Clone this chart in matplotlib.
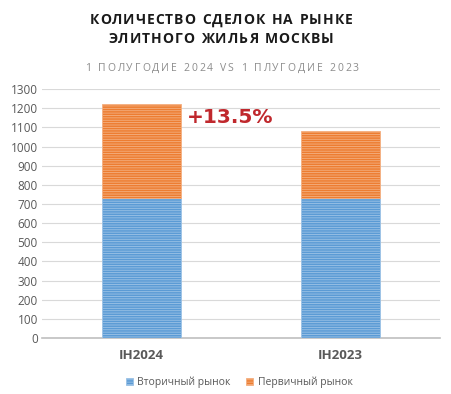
import matplotlib
matplotlib.use("Agg")
import matplotlib.pyplot as plt
import numpy as np

categories = ["IH2024", "IH2023"]
secondary = [733, 733]
primary = [490, 347]
series_names = ["Вторичный рынок", "Первичный рынок"]
growth_label = "+13.5%"
title_lines = ["КОЛИЧЕСТВО СДЕЛОК НА РЫНКЕ", "ЭЛИТНОГО ЖИЛЬЯ МОСКВЫ"]
subtitle = "1 ПОЛУГОДИЕ 2024 VS 1 ПЛУГОДИЕ 2023"

plt.rcParams["font.family"] = ["Open Sans", "DejaVu Sans"]
plt.rcParams["hatch.color"] = "white"
plt.rcParams["hatch.linewidth"] = 0.6

fig = plt.figure(figsize=(4.51, 3.94), dpi=100)
ax = fig.add_axes([0.093, 0.142, 0.883, 0.632])
renderer = fig.canvas.get_renderer()


def spaced_text(s, xc, yc, spacing, **kw):
    # draw text char by char with extra letter spacing (pixels), centred at xc,yc (figure fraction)
    W = fig.bbox.width
    widths = []
    for ch in s:
        t = fig.text(0, 0, ch if ch != " " else "n", **kw)
        widths.append(t.get_window_extent(renderer).width * (0.5 if ch == " " else 1))
        t.remove()
    total = sum(widths) + spacing * (len(s) - 1)
    xpos = xc * W - total / 2
    for ch, w in zip(s, widths):
        if ch != " ":
            fig.text(xpos / W, yc, ch, ha="left", va="center", **kw)
        xpos += w + spacing


x = np.arange(len(categories))
b1 = ax.bar(x, secondary, width=0.4, color="#5b9bd5", hatch="-------",
            edgecolor="#9dc3e6", linewidth=0.6, label=series_names[0], zorder=3)
b2 = ax.bar(x, primary, bottom=secondary, width=0.4, color="#ed7d31", hatch="-------",
            edgecolor="#f4b183", linewidth=0.6, label=series_names[1], zorder=3)

ax.set_ylim(0, 1300)
ax.set_xlim(-0.5, 1.5)
ax.set_yticks(range(0, 1301, 100))
ax.yaxis.grid(True, color="#d9d9d9", linewidth=0.8, zorder=0)
ax.set_axisbelow(True)
for s in ["top", "right", "left"]:
    ax.spines[s].set_visible(False)
ax.spines["bottom"].set_color("#bfbfbf")
ax.spines["bottom"].set_linewidth(1.2)
ax.tick_params(axis="y", length=0, labelsize=8.5, labelcolor="#595959", pad=3)
ax.tick_params(axis="x", length=0, pad=8)
ax.set_xticks(x)
ax.set_xticklabels(categories, fontsize=9.5, fontweight="bold", color="#595959")

ax.text(x[0] + 0.23, 1154, growth_label, fontsize=14.5, fontweight="bold",
        color="#c0282d", va="center", ha="left", family="DejaVu Sans")

spaced_text(title_lines[0], 0.49, 0.949, 1.0, fontsize=10, fontweight="bold", color="#1a1a1a")
spaced_text(title_lines[1], 0.49, 0.901, 1.0, fontsize=10, fontweight="bold", color="#1a1a1a")
spaced_text(subtitle, 0.492, 0.827, 1.9, fontsize=7.5, color="#8c8c8c")

fig.legend(handles=[b1, b2], loc="center", bbox_to_anchor=(0.53, 0.03), ncol=2,
           frameon=False, fontsize=7.5, handlelength=0.7, handleheight=0.7,
           columnspacing=1.5, handletextpad=0.4, labelcolor="#595959")

fig.savefig("out.png", dpi=100)
